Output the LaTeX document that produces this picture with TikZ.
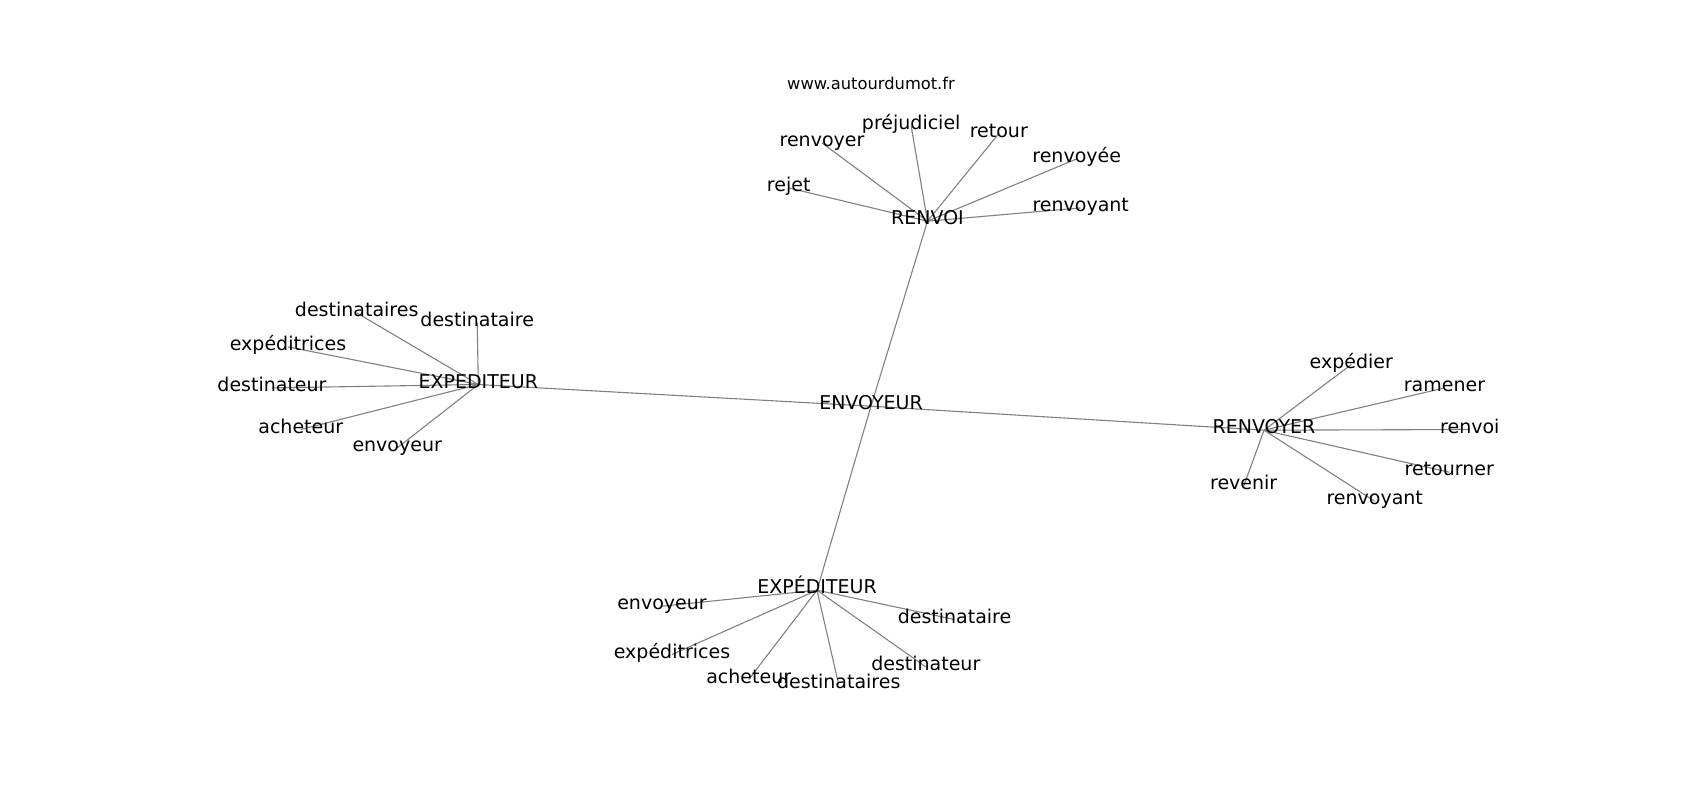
\documentclass[tikz,border=0pt]{standalone}
\usepackage{fontspec}
\setmainfont{DejaVu Sans}
\usetikzlibrary{backgrounds}
\tikzset{
  word/.style={inner sep=0pt, text height=0.87em, text depth=0.13em, font=\fontsize{19}{19}\selectfont},
  site/.style={inner sep=0pt, text height=0.87em, text depth=0.13em, font=\fontsize{16.3}{16.3}\selectfont},
  link/.style={draw=black!50, line width=1.1pt}
}
\begin{document}
\begin{tikzpicture}[x=1pt,y=-1pt]
\useasboundingbox (0,0) rectangle (1700,800);
\begin{scope}[yshift=-1.2pt]
\node[site] (www) at (871,84.5) {www.autourdumot.fr};
% hubs
\node[word] (env) at (871,405) {ENVOYEUR};
\node[word] (renvoi) at (927.5,220) {RENVOI};
\node[word] (expl) at (478.3,383.3) {EXPEDITEUR};
\node[word] (renvoyer) at (1264,429) {RENVOYER};
\node[word] (expb) at (817,589) {EXPÉDITEUR};
% RENVOI group
\node[word] (a1) at (911.2,125) {préjudiciel};
\node[word] (a2) at (822,141.7) {renvoyer};
\node[word] (a3) at (998.8,132.3) {retour};
\node[word] (a4) at (1076.7,157.7) {renvoyée};
\node[word] (a5) at (788.7,186.7) {rejet};
\node[word] (a6) at (1080.7,206.7) {renvoyant};
% EXPEDITEUR left group
\node[word] (b1) at (356.7,311.7) {destinataires};
\node[word] (b2) at (477.2,321.7) {destinataire};
\node[word] (b3) at (288,345.7) {expéditrices};
\node[word] (b4) at (272,386.7) {destinateur};
\node[word] (b5) at (300.8,428.3) {acheteur};
\node[word] (b6) at (397.2,446.7) {envoyeur};
% RENVOYER group
\node[word] (c1) at (1351.3,363.3) {expédier};
\node[word] (c2) at (1444.5,386.7) {ramener};
\node[word] (c3) at (1469.8,428.3) {renvoi};
\node[word] (c4) at (1449.2,471) {retourner};
\node[word] (c5) at (1243.7,485) {revenir};
\node[word] (c6) at (1374.7,500) {renvoyant};
% EXPÉDITEUR bottom group
\node[word] (d1) at (662,605) {envoyeur};
\node[word] (d2) at (954.5,618.3) {destinataire};
\node[word] (d3) at (672,653.3) {expéditrices};
\node[word] (d4) at (925.8,665.7) {destinateur};
\node[word] (d5) at (748.7,678.3) {acheteur};
\node[word] (d6) at (838.7,683.3) {destinataires};
\end{scope}
\begin{pgfonlayer}{background}
\foreach \h in {renvoi,expl,renvoyer,expb} \draw[link] (env.center) -- (\h.center);
\foreach \s in {a1,a2,a3,a4,a5,a6} \draw[link] (renvoi.center) -- (\s.center);
\foreach \s in {b1,b2,b3,b4,b5,b6} \draw[link] (expl.center) -- (\s.center);
\foreach \s in {c1,c2,c3,c4,c5,c6} \draw[link] (renvoyer.center) -- (\s.center);
\foreach \s in {d1,d2,d3,d4,d5,d6} \draw[link] (expb.center) -- (\s.center);
\end{pgfonlayer}
\end{tikzpicture}
\end{document}
